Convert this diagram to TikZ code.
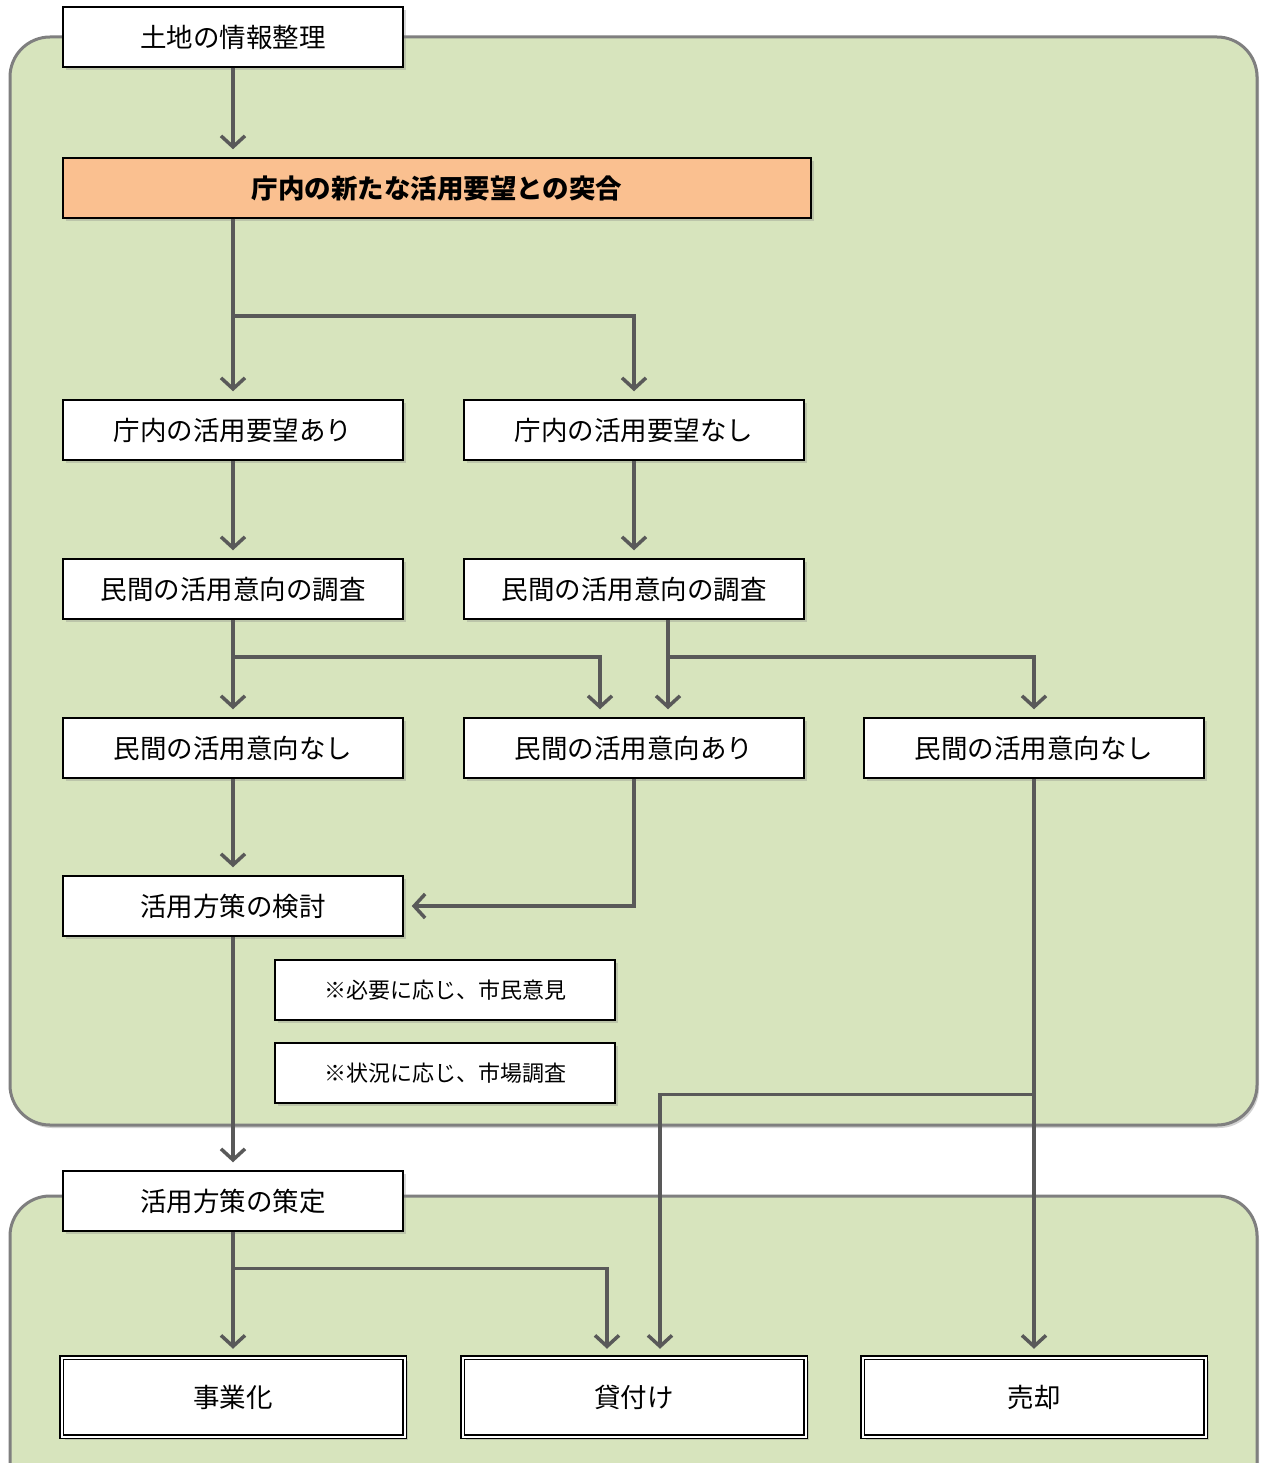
\documentclass[tikz,border=0pt]{standalone}
\usepackage{fontspec}
\setmainfont{Noto Sans CJK JP}
\usetikzlibrary{arrows.meta,shadows,calc}
\definecolor{panelfill}{HTML}{D7E4BD}
\definecolor{panelline}{HTML}{7F7F7F}
\definecolor{arrcol}{HTML}{595959}
\definecolor{orangefill}{HTML}{FAC090}
\tikzset{
  panel/.style={draw=panelline, line width=3pt, fill=panelfill, rounded corners=40pt,
    drop shadow={shadow xshift=2pt, shadow yshift=-3pt, opacity=0.35}},
  box/.style={draw=black, line width=1.5pt, fill=white, minimum width=340pt, minimum height=60pt,
    inner sep=0pt, font=\fontsize{26.5}{31}\selectfont,
    drop shadow={shadow xshift=3pt, shadow yshift=-3pt, opacity=0.3}},
  notebox/.style={box, font=\fontsize{22}{27}\selectfont},
  endbox/.style={box, minimum width=343pt, minimum height=79pt, line width=1.5pt, double=white, double distance=2pt},
  arr/.style={draw=arrcol, line width=3.5pt, -{Straight Barb[length=11pt,width=24pt,line width=3.5pt]}, shorten >=8pt}
}
\begin{document}
\begin{tikzpicture}[x=1pt,y=-1pt]
\useasboundingbox (0,0) rectangle (1263,1463);
\clip (0,0) rectangle (1263,1463);
\fill[white] (0,0) rectangle (1263,1463);
% panels
\path[panel] (10,37) rectangle (1257,1125);
\path[panel] (10,1196) rectangle (1257,1540);
% boxes
\node[box] (info) at (233,37) {土地の情報整理};
\node[box, fill=orangefill, minimum width=748pt, font=\fontsize{26.5}{31}\selectfont\bfseries] (match) at (437,188) {庁内の新たな活用要望との突合};
\node[box] (req1) at (233,430) {庁内の活用要望あり};
\node[box] (req2) at (634,430) {庁内の活用要望なし};
\node[box] (sv1) at (233,589) {民間の活用意向の調査};
\node[box] (sv2) at (634,589) {民間の活用意向の調査};
\node[box] (in1) at (233,748) {民間の活用意向なし};
\node[box] (in2) at (634,748) {民間の活用意向あり};
\node[box] (in3) at (1034,748) {民間の活用意向なし};
\node[box] (study) at (233,906) {活用方策の検討};
\node[notebox] (n1) at (445,990) {※必要に応じ、市民意見};
\node[notebox] (n2) at (445,1073) {※状況に応じ、市場調査};
\node[box] (plan) at (233,1201) {活用方策の策定};
\node[endbox] (f1) at (233,1397) {事業化};
\node[endbox] (f2) at (634,1397) {貸付け};
\node[endbox] (f3) at (1034,1397) {売却};
% connectors
\draw[arr] (info.south) -- (info.south |- match.north);
\draw[arr] (match.south -| req1.north) -- (req1.north);
\coordinate (b1) at ($(match.south -| req1.north)!0.54!(req1.north)$);
\draw[arr] (b1) -| (req2.north);
\draw[arr] (req1.south) -- (sv1.north);
\draw[arr] (req2.south) -- (sv2.north);
\draw[arr] (sv1.south) -- (in1.north);
\coordinate (b2) at ($(sv1.south)!0.384!(in1.north)$);
\coordinate (in2l) at ($(in2.north)+(-34,0)$);
\coordinate (in2r) at ($(in2.north)+(34,0)$);
\coordinate (sv2r) at ($(sv2.south)+(34,0)$);
\draw[arr] (b2) -| (in2l);
\draw[arr] (sv2r) -- (in2r);
\draw[arr] (b2 -| sv2r) -| (in3.north);
\draw[arr] (in1.south) -- (study.north);
\draw[arr] (in2.south) |- (study.east);
\draw[arr] (study.south) -- (plan.north);
\draw[arr] (in3.south) -- (f3.north);
\coordinate (b3) at ($(in3.south)!0.546!(f3.north)$);
\coordinate (f2r) at ($(f2.north)+(26,0)$);
\coordinate (f2l) at ($(f2.north)+(-27,0)$);
\draw[arr] (b3) -| (f2r);
\draw[arr] (plan.south) -- (f1.north);
\coordinate (b4) at ($(plan.south)!0.294!(f1.north)$);
\draw[arr] (b4) -| (f2l);
\end{tikzpicture}
\end{document}
